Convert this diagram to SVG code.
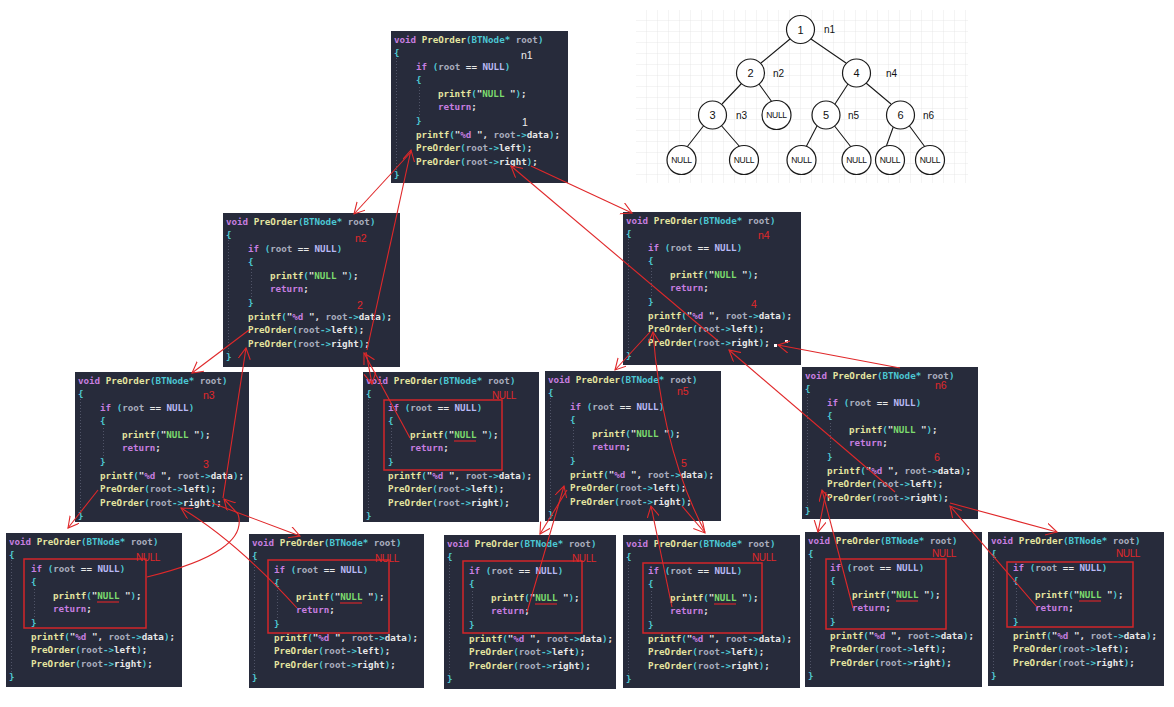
<svg xmlns="http://www.w3.org/2000/svg" width="1174" height="707" viewBox="0 0 1174 707">
<style>
.bg{fill:#272b3b}
.g{stroke:#5a6072;stroke-width:0.8;stroke-dasharray:1 2;fill:none}
.t{font-family:"DejaVu Sans Mono","Liberation Mono",monospace;font-size:9.2px;font-weight:bold;white-space:pre;fill:#e8e8e8}
.k{fill:#c77ee0}.f{fill:#e5e5a0}.p{fill:#4cc7d3}.v{fill:#a9adbd}.n{fill:#b9b9f5}.s{fill:#7ddc6e}.w{fill:#e8e8e8}
.rl{font-family:"Liberation Sans",Arial,sans-serif;font-size:10.5px;fill:#e0282a}
.wl{font-family:"Liberation Sans",Arial,sans-serif;font-size:10.5px;fill:#f0f0f0}
.nl{font-family:"Liberation Sans",Arial,sans-serif;font-size:10px;fill:#e0282a;letter-spacing:-0.4px}
.box{fill:none;stroke:#d3262a;stroke-width:1.5}
.ul{stroke:#d3262a;stroke-width:1.2}
.c{fill:none;stroke:#e0282a;stroke-width:1.1}
.tc{fill:#fff;stroke:#1a1a1a;stroke-width:1.2}
.tl{stroke:#1a1a1a;stroke-width:1.1}
.tt{font-family:"Liberation Sans",Arial,sans-serif;font-size:11px;fill:#111;text-anchor:middle}
.tn{font-family:"Liberation Sans",Arial,sans-serif;font-size:8.5px;fill:#111;text-anchor:middle;letter-spacing:-0.3px}
.ta{font-family:"Liberation Sans",Arial,sans-serif;font-size:10px;fill:#111}
</style>
<defs>
<pattern id="grid" width="11" height="11" patternUnits="userSpaceOnUse" x="636" y="10">
<path d="M11,0V11M0,11H11" stroke="#e2e2e2" stroke-width="0.8" fill="none"/>
</pattern>
<marker id="ah" markerUnits="userSpaceOnUse" markerWidth="14" markerHeight="14" refX="11" refY="6" orient="auto-start-reverse">
<path d="M0,0L11,6L0,12" fill="none" stroke="#e0282a" stroke-width="1.1"/>
</marker>
</defs>
<rect width="1174" height="707" fill="#fff"/>

<!-- tree picture -->
<g id="tree">
<rect x="636" y="10" width="332" height="173" fill="url(#grid)"/>
<path class="tl" d="M790,39L761,63M811,39L846,63M742,83L722,104M759,84L772,102M848,84L835,104M866,83L891,104M705,124L687,147M720,124L740,147M818,124L806,147M833,124L851,147M894,125L886,147M908,124L925,147"/>
<circle class="tc" cx="800.5" cy="29.5" r="14"/><text class="tt" x="800.5" y="33.5">1</text>
<circle class="tc" cx="750.5" cy="73" r="14"/><text class="tt" x="750.5" y="77">2</text>
<circle class="tc" cx="856.5" cy="73" r="14"/><text class="tt" x="856.5" y="77">4</text>
<circle class="tc" cx="712.5" cy="115" r="14"/><text class="tt" x="712.5" y="119">3</text>
<circle class="tc" cx="776.5" cy="115" r="14.5"/><text class="tn" x="776.5" y="118">NULL</text>
<circle class="tc" cx="826" cy="115" r="14"/><text class="tt" x="826" y="119">5</text>
<circle class="tc" cx="900.5" cy="115" r="14"/><text class="tt" x="900.5" y="119">6</text>
<circle class="tc" cx="681.5" cy="160" r="14.5"/><text class="tn" x="681.5" y="163">NULL</text>
<circle class="tc" cx="744" cy="160" r="14.5"/><text class="tn" x="744" y="163">NULL</text>
<circle class="tc" cx="801.5" cy="160" r="14.5"/><text class="tn" x="801.5" y="163">NULL</text>
<circle class="tc" cx="856.5" cy="160" r="14.5"/><text class="tn" x="856.5" y="163">NULL</text>
<circle class="tc" cx="890" cy="160" r="14.5"/><text class="tn" x="890" y="163">NULL</text>
<circle class="tc" cx="930" cy="160" r="14.5"/><text class="tn" x="930" y="163">NULL</text>
<text class="ta" x="824" y="33">n1</text>
<text class="ta" x="773" y="77">n2</text>
<text class="ta" x="886" y="77">n4</text>
<text class="ta" x="736" y="119">n3</text>
<text class="ta" x="848" y="119">n5</text>
<text class="ta" x="923" y="119">n6</text>
</g>

<!-- n1 -->
<g id="n1" transform="translate(391,31)">
<rect class="bg" width="177" height="152"/>
<path class="g" d="M5.5,18V146M28.5,56V84"/>
<text class="t" x="3" y="11.5"><tspan class="k">void</tspan> <tspan class="f">PreOrder</tspan><tspan class="p">(BTNode*</tspan> <tspan class="v">root</tspan><tspan class="p">)</tspan></text>
<text class="t p" x="3" y="25">{</text>
<text class="t" x="25" y="38.6"><tspan class="k">if</tspan> <tspan class="p">(</tspan><tspan class="v">root</tspan> <tspan class="w">==</tspan> <tspan class="n">NULL</tspan><tspan class="p">)</tspan></text>
<text class="t p" x="25" y="52.2">{</text>
<text class="t" x="47" y="65.8"><tspan class="f">printf</tspan><tspan class="p">(</tspan><tspan class="w">"</tspan><tspan class="s">NULL</tspan><tspan class="w"> "</tspan><tspan class="p">)</tspan><tspan class="w">;</tspan></text>
<text class="t k" x="47" y="79.4">return<tspan class="w">;</tspan></text>
<text class="t p" x="25" y="93">}</text>
<text class="t" x="25" y="106.6"><tspan class="f">printf</tspan><tspan class="p">(</tspan><tspan class="w">"</tspan><tspan class="k">%d</tspan><tspan class="w"> ", </tspan><tspan class="v">root</tspan><tspan class="p">-&gt;</tspan><tspan class="w">data</tspan><tspan class="p">)</tspan><tspan class="w">;</tspan></text>
<text class="t" x="25" y="120.2"><tspan class="f">PreOrder</tspan><tspan class="p">(</tspan><tspan class="v">root</tspan><tspan class="p">-&gt;</tspan><tspan class="w">left</tspan><tspan class="p">)</tspan><tspan class="w">;</tspan></text>
<text class="t" x="25" y="133.8"><tspan class="f">PreOrder</tspan><tspan class="p">(</tspan><tspan class="v">root</tspan><tspan class="p">-&gt;</tspan><tspan class="w">right</tspan><tspan class="p">)</tspan><tspan class="w">;</tspan></text>
<text class="t p" x="3" y="147.4">}</text>
<text class="wl" x="130" y="28">n1</text>
<text class="wl" x="131" y="95">1</text>
</g>

<!-- n2 -->
<g id="n2" transform="translate(223,213)">
<rect class="bg" width="177" height="154"/>
<path class="g" d="M5.5,18V146M28.5,56V84"/>
<text class="t" x="3" y="11.5"><tspan class="k">void</tspan> <tspan class="f">PreOrder</tspan><tspan class="p">(BTNode*</tspan> <tspan class="v">root</tspan><tspan class="p">)</tspan></text>
<text class="t p" x="3" y="25">{</text>
<text class="t" x="25" y="38.6"><tspan class="k">if</tspan> <tspan class="p">(</tspan><tspan class="v">root</tspan> <tspan class="w">==</tspan> <tspan class="n">NULL</tspan><tspan class="p">)</tspan></text>
<text class="t p" x="25" y="52.2">{</text>
<text class="t" x="47" y="65.8"><tspan class="f">printf</tspan><tspan class="p">(</tspan><tspan class="w">"</tspan><tspan class="s">NULL</tspan><tspan class="w"> "</tspan><tspan class="p">)</tspan><tspan class="w">;</tspan></text>
<text class="t k" x="47" y="79.4">return<tspan class="w">;</tspan></text>
<text class="t p" x="25" y="93">}</text>
<text class="t" x="25" y="106.6"><tspan class="f">printf</tspan><tspan class="p">(</tspan><tspan class="w">"</tspan><tspan class="k">%d</tspan><tspan class="w"> ", </tspan><tspan class="v">root</tspan><tspan class="p">-&gt;</tspan><tspan class="w">data</tspan><tspan class="p">)</tspan><tspan class="w">;</tspan></text>
<text class="t" x="25" y="120.2"><tspan class="f">PreOrder</tspan><tspan class="p">(</tspan><tspan class="v">root</tspan><tspan class="p">-&gt;</tspan><tspan class="w">left</tspan><tspan class="p">)</tspan><tspan class="w">;</tspan></text>
<text class="t" x="25" y="133.8"><tspan class="f">PreOrder</tspan><tspan class="p">(</tspan><tspan class="v">root</tspan><tspan class="p">-&gt;</tspan><tspan class="w">right</tspan><tspan class="p">)</tspan><tspan class="w">;</tspan></text>
<text class="t p" x="3" y="147.4">}</text>
<text class="rl" x="132" y="29">n2</text>
<text class="rl" x="134" y="95.5">2</text>
</g>

<!-- n4 -->
<g id="n4" transform="translate(623,212)">
<rect class="bg" width="178" height="153"/>
<path class="g" d="M5.5,18V146M28.5,56V84"/>
<text class="t" x="3" y="11.5"><tspan class="k">void</tspan> <tspan class="f">PreOrder</tspan><tspan class="p">(BTNode*</tspan> <tspan class="v">root</tspan><tspan class="p">)</tspan></text>
<text class="t p" x="3" y="25">{</text>
<text class="t" x="25" y="38.6"><tspan class="k">if</tspan> <tspan class="p">(</tspan><tspan class="v">root</tspan> <tspan class="w">==</tspan> <tspan class="n">NULL</tspan><tspan class="p">)</tspan></text>
<text class="t p" x="25" y="52.2">{</text>
<text class="t" x="47" y="65.8"><tspan class="f">printf</tspan><tspan class="p">(</tspan><tspan class="w">"</tspan><tspan class="s">NULL</tspan><tspan class="w"> "</tspan><tspan class="p">)</tspan><tspan class="w">;</tspan></text>
<text class="t k" x="47" y="79.4">return<tspan class="w">;</tspan></text>
<text class="t p" x="25" y="93">}</text>
<text class="t" x="25" y="106.6"><tspan class="f">printf</tspan><tspan class="p">(</tspan><tspan class="w">"</tspan><tspan class="k">%d</tspan><tspan class="w"> ", </tspan><tspan class="v">root</tspan><tspan class="p">-&gt;</tspan><tspan class="w">data</tspan><tspan class="p">)</tspan><tspan class="w">;</tspan></text>
<text class="t" x="25" y="120.2"><tspan class="f">PreOrder</tspan><tspan class="p">(</tspan><tspan class="v">root</tspan><tspan class="p">-&gt;</tspan><tspan class="w">left</tspan><tspan class="p">)</tspan><tspan class="w">;</tspan></text>
<text class="t" x="25" y="133.8"><tspan class="f">PreOrder</tspan><tspan class="p">(</tspan><tspan class="v">root</tspan><tspan class="p">-&gt;</tspan><tspan class="w">right</tspan><tspan class="p">)</tspan><tspan class="w">;</tspan></text>
<text class="t p" x="3" y="147.4">}</text>
<text class="rl" x="135" y="27">n4</text>
<text class="rl" x="128" y="95.5">4</text>
<rect x="151" y="132" width="3" height="3" fill="#fff"/>
<rect x="162" y="128" width="3" height="3" fill="#fff"/>
</g>

<!-- n3 -->
<g id="n3" transform="translate(75,372)">
<rect class="bg" width="174" height="150"/>
<path class="g" d="M5.5,18V146M28.5,56V84"/>
<text class="t" x="3" y="11.5"><tspan class="k">void</tspan> <tspan class="f">PreOrder</tspan><tspan class="p">(BTNode*</tspan> <tspan class="v">root</tspan><tspan class="p">)</tspan></text>
<text class="t p" x="3" y="25">{</text>
<text class="t" x="25" y="38.6"><tspan class="k">if</tspan> <tspan class="p">(</tspan><tspan class="v">root</tspan> <tspan class="w">==</tspan> <tspan class="n">NULL</tspan><tspan class="p">)</tspan></text>
<text class="t p" x="25" y="52.2">{</text>
<text class="t" x="47" y="65.8"><tspan class="f">printf</tspan><tspan class="p">(</tspan><tspan class="w">"</tspan><tspan class="s">NULL</tspan><tspan class="w"> "</tspan><tspan class="p">)</tspan><tspan class="w">;</tspan></text>
<text class="t k" x="47" y="79.4">return<tspan class="w">;</tspan></text>
<text class="t p" x="25" y="93">}</text>
<text class="t" x="25" y="106.6"><tspan class="f">printf</tspan><tspan class="p">(</tspan><tspan class="w">"</tspan><tspan class="k">%d</tspan><tspan class="w"> ", </tspan><tspan class="v">root</tspan><tspan class="p">-&gt;</tspan><tspan class="w">data</tspan><tspan class="p">)</tspan><tspan class="w">;</tspan></text>
<text class="t" x="25" y="120.2"><tspan class="f">PreOrder</tspan><tspan class="p">(</tspan><tspan class="v">root</tspan><tspan class="p">-&gt;</tspan><tspan class="w">left</tspan><tspan class="p">)</tspan><tspan class="w">;</tspan></text>
<text class="t" x="25" y="133.8"><tspan class="f">PreOrder</tspan><tspan class="p">(</tspan><tspan class="v">root</tspan><tspan class="p">-&gt;</tspan><tspan class="w">right</tspan><tspan class="p">)</tspan><tspan class="w">;</tspan></text>
<text class="t p" x="3" y="147.4">}</text>
<text class="rl" x="128" y="27">n3</text>
<text class="rl" x="128" y="96">3</text>
</g>

<!-- middle NULL (n2 right) -->
<g id="null_n2r" transform="translate(363,372)">
<rect class="bg" width="176" height="150"/>
<path class="g" d="M5.5,18V146M28.5,56V84"/>
<text class="t" x="3" y="11.5"><tspan class="k">void</tspan> <tspan class="f">PreOrder</tspan><tspan class="p">(BTNode*</tspan> <tspan class="v">root</tspan><tspan class="p">)</tspan></text>
<text class="t p" x="3" y="25">{</text>
<text class="t" x="25" y="38.6"><tspan class="k">if</tspan> <tspan class="p">(</tspan><tspan class="v">root</tspan> <tspan class="w">==</tspan> <tspan class="n">NULL</tspan><tspan class="p">)</tspan></text>
<text class="t p" x="25" y="52.2">{</text>
<text class="t" x="47" y="65.8"><tspan class="f">printf</tspan><tspan class="p">(</tspan><tspan class="w">"</tspan><tspan class="s">NULL</tspan><tspan class="w"> "</tspan><tspan class="p">)</tspan><tspan class="w">;</tspan></text>
<text class="t k" x="47" y="79.4">return<tspan class="w">;</tspan></text>
<text class="t p" x="25" y="93">}</text>
<text class="t" x="25" y="106.6"><tspan class="f">printf</tspan><tspan class="p">(</tspan><tspan class="w">"</tspan><tspan class="k">%d</tspan><tspan class="w"> ", </tspan><tspan class="v">root</tspan><tspan class="p">-&gt;</tspan><tspan class="w">data</tspan><tspan class="p">)</tspan><tspan class="w">;</tspan></text>
<text class="t" x="25" y="120.2"><tspan class="f">PreOrder</tspan><tspan class="p">(</tspan><tspan class="v">root</tspan><tspan class="p">-&gt;</tspan><tspan class="w">left</tspan><tspan class="p">)</tspan><tspan class="w">;</tspan></text>
<text class="t" x="25" y="133.8"><tspan class="f">PreOrder</tspan><tspan class="p">(</tspan><tspan class="v">root</tspan><tspan class="p">-&gt;</tspan><tspan class="w">right</tspan><tspan class="p">)</tspan><tspan class="w">;</tspan></text>
<text class="t p" x="3" y="147.4">}</text>
<rect class="box" x="21" y="28" width="118" height="70"/>
<path class="ul" d="M91,69H113"/>
<text class="nl" x="129" y="27">NULL</text>
</g>

<!-- n5 -->
<g id="n5" transform="translate(545,371)">
<rect class="bg" width="176" height="150"/>
<path class="g" d="M5.5,18V146M28.5,56V84"/>
<text class="t" x="3" y="11.5"><tspan class="k">void</tspan> <tspan class="f">PreOrder</tspan><tspan class="p">(BTNode*</tspan> <tspan class="v">root</tspan><tspan class="p">)</tspan></text>
<text class="t p" x="3" y="25">{</text>
<text class="t" x="25" y="38.6"><tspan class="k">if</tspan> <tspan class="p">(</tspan><tspan class="v">root</tspan> <tspan class="w">==</tspan> <tspan class="n">NULL</tspan><tspan class="p">)</tspan></text>
<text class="t p" x="25" y="52.2">{</text>
<text class="t" x="47" y="65.8"><tspan class="f">printf</tspan><tspan class="p">(</tspan><tspan class="w">"</tspan><tspan class="s">NULL</tspan><tspan class="w"> "</tspan><tspan class="p">)</tspan><tspan class="w">;</tspan></text>
<text class="t k" x="47" y="79.4">return<tspan class="w">;</tspan></text>
<text class="t p" x="25" y="93">}</text>
<text class="t" x="25" y="106.6"><tspan class="f">printf</tspan><tspan class="p">(</tspan><tspan class="w">"</tspan><tspan class="k">%d</tspan><tspan class="w"> ", </tspan><tspan class="v">root</tspan><tspan class="p">-&gt;</tspan><tspan class="w">data</tspan><tspan class="p">)</tspan><tspan class="w">;</tspan></text>
<text class="t" x="25" y="120.2"><tspan class="f">PreOrder</tspan><tspan class="p">(</tspan><tspan class="v">root</tspan><tspan class="p">-&gt;</tspan><tspan class="w">left</tspan><tspan class="p">)</tspan><tspan class="w">;</tspan></text>
<text class="t" x="25" y="133.8"><tspan class="f">PreOrder</tspan><tspan class="p">(</tspan><tspan class="v">root</tspan><tspan class="p">-&gt;</tspan><tspan class="w">right</tspan><tspan class="p">)</tspan><tspan class="w">;</tspan></text>
<text class="t p" x="3" y="147.4">}</text>
<text class="rl" x="132" y="24">n5</text>
<text class="rl" x="136" y="96">5</text>
</g>

<!-- n6 -->
<g id="n6" transform="translate(802,367)">
<rect class="bg" width="176" height="152"/>
<path class="g" d="M5.5,18V146M28.5,56V84"/>
<text class="t" x="3" y="11.5"><tspan class="k">void</tspan> <tspan class="f">PreOrder</tspan><tspan class="p">(BTNode*</tspan> <tspan class="v">root</tspan><tspan class="p">)</tspan></text>
<text class="t p" x="3" y="25">{</text>
<text class="t" x="25" y="38.6"><tspan class="k">if</tspan> <tspan class="p">(</tspan><tspan class="v">root</tspan> <tspan class="w">==</tspan> <tspan class="n">NULL</tspan><tspan class="p">)</tspan></text>
<text class="t p" x="25" y="52.2">{</text>
<text class="t" x="47" y="65.8"><tspan class="f">printf</tspan><tspan class="p">(</tspan><tspan class="w">"</tspan><tspan class="s">NULL</tspan><tspan class="w"> "</tspan><tspan class="p">)</tspan><tspan class="w">;</tspan></text>
<text class="t k" x="47" y="79.4">return<tspan class="w">;</tspan></text>
<text class="t p" x="25" y="93">}</text>
<text class="t" x="25" y="106.6"><tspan class="f">printf</tspan><tspan class="p">(</tspan><tspan class="w">"</tspan><tspan class="k">%d</tspan><tspan class="w"> ", </tspan><tspan class="v">root</tspan><tspan class="p">-&gt;</tspan><tspan class="w">data</tspan><tspan class="p">)</tspan><tspan class="w">;</tspan></text>
<text class="t" x="25" y="120.2"><tspan class="f">PreOrder</tspan><tspan class="p">(</tspan><tspan class="v">root</tspan><tspan class="p">-&gt;</tspan><tspan class="w">left</tspan><tspan class="p">)</tspan><tspan class="w">;</tspan></text>
<text class="t" x="25" y="133.8"><tspan class="f">PreOrder</tspan><tspan class="p">(</tspan><tspan class="v">root</tspan><tspan class="p">-&gt;</tspan><tspan class="w">right</tspan><tspan class="p">)</tspan><tspan class="w">;</tspan></text>
<text class="t p" x="3" y="147.4">}</text>
<text class="rl" x="133" y="22">n6</text>
<text class="rl" x="132" y="94">6</text>
</g>

<!-- bottom NULL blocks -->
<g id="null_n3l" transform="translate(6,533)">
<rect class="bg" width="176" height="154"/>
<path class="g" d="M5.5,18V146M28.5,56V84"/>
<text class="t" x="3" y="11.5"><tspan class="k">void</tspan> <tspan class="f">PreOrder</tspan><tspan class="p">(BTNode*</tspan> <tspan class="v">root</tspan><tspan class="p">)</tspan></text>
<text class="t p" x="3" y="25">{</text>
<text class="t" x="25" y="38.6"><tspan class="k">if</tspan> <tspan class="p">(</tspan><tspan class="v">root</tspan> <tspan class="w">==</tspan> <tspan class="n">NULL</tspan><tspan class="p">)</tspan></text>
<text class="t p" x="25" y="52.2">{</text>
<text class="t" x="47" y="65.8"><tspan class="f">printf</tspan><tspan class="p">(</tspan><tspan class="w">"</tspan><tspan class="s">NULL</tspan><tspan class="w"> "</tspan><tspan class="p">)</tspan><tspan class="w">;</tspan></text>
<text class="t k" x="47" y="79.4">return<tspan class="w">;</tspan></text>
<text class="t p" x="25" y="93">}</text>
<text class="t" x="25" y="106.6"><tspan class="f">printf</tspan><tspan class="p">(</tspan><tspan class="w">"</tspan><tspan class="k">%d</tspan><tspan class="w"> ", </tspan><tspan class="v">root</tspan><tspan class="p">-&gt;</tspan><tspan class="w">data</tspan><tspan class="p">)</tspan><tspan class="w">;</tspan></text>
<text class="t" x="25" y="120.2"><tspan class="f">PreOrder</tspan><tspan class="p">(</tspan><tspan class="v">root</tspan><tspan class="p">-&gt;</tspan><tspan class="w">left</tspan><tspan class="p">)</tspan><tspan class="w">;</tspan></text>
<text class="t" x="25" y="133.8"><tspan class="f">PreOrder</tspan><tspan class="p">(</tspan><tspan class="v">root</tspan><tspan class="p">-&gt;</tspan><tspan class="w">right</tspan><tspan class="p">)</tspan><tspan class="w">;</tspan></text>
<text class="t p" x="3" y="147.4">}</text>
<rect class="box" x="18" y="26" width="122" height="69"/>
<path class="ul" d="M91,69H113"/>
<text class="nl" x="130" y="28">NULL</text>
</g>

<g id="null_n3r" transform="translate(249,534)">
<rect class="bg" width="175" height="154"/>
<path class="g" d="M5.5,18V146M28.5,56V84"/>
<text class="t" x="3" y="11.5"><tspan class="k">void</tspan> <tspan class="f">PreOrder</tspan><tspan class="p">(BTNode*</tspan> <tspan class="v">root</tspan><tspan class="p">)</tspan></text>
<text class="t p" x="3" y="25">{</text>
<text class="t" x="25" y="38.6"><tspan class="k">if</tspan> <tspan class="p">(</tspan><tspan class="v">root</tspan> <tspan class="w">==</tspan> <tspan class="n">NULL</tspan><tspan class="p">)</tspan></text>
<text class="t p" x="25" y="52.2">{</text>
<text class="t" x="47" y="65.8"><tspan class="f">printf</tspan><tspan class="p">(</tspan><tspan class="w">"</tspan><tspan class="s">NULL</tspan><tspan class="w"> "</tspan><tspan class="p">)</tspan><tspan class="w">;</tspan></text>
<text class="t k" x="47" y="79.4">return<tspan class="w">;</tspan></text>
<text class="t p" x="25" y="93">}</text>
<text class="t" x="25" y="106.6"><tspan class="f">printf</tspan><tspan class="p">(</tspan><tspan class="w">"</tspan><tspan class="k">%d</tspan><tspan class="w"> ", </tspan><tspan class="v">root</tspan><tspan class="p">-&gt;</tspan><tspan class="w">data</tspan><tspan class="p">)</tspan><tspan class="w">;</tspan></text>
<text class="t" x="25" y="120.2"><tspan class="f">PreOrder</tspan><tspan class="p">(</tspan><tspan class="v">root</tspan><tspan class="p">-&gt;</tspan><tspan class="w">left</tspan><tspan class="p">)</tspan><tspan class="w">;</tspan></text>
<text class="t" x="25" y="133.8"><tspan class="f">PreOrder</tspan><tspan class="p">(</tspan><tspan class="v">root</tspan><tspan class="p">-&gt;</tspan><tspan class="w">right</tspan><tspan class="p">)</tspan><tspan class="w">;</tspan></text>
<text class="t p" x="3" y="147.4">}</text>
<rect class="box" x="19" y="26" width="121" height="73"/>
<path class="ul" d="M91,69H113"/>
<text class="nl" x="126" y="28">NULL</text>
</g>

<g id="null_n5l" transform="translate(444,535)">
<rect class="bg" width="172" height="154"/>
<path class="g" d="M5.5,18V146M28.5,56V84"/>
<text class="t" x="3" y="11.5"><tspan class="k">void</tspan> <tspan class="f">PreOrder</tspan><tspan class="p">(BTNode*</tspan> <tspan class="v">root</tspan><tspan class="p">)</tspan></text>
<text class="t p" x="3" y="25">{</text>
<text class="t" x="25" y="38.6"><tspan class="k">if</tspan> <tspan class="p">(</tspan><tspan class="v">root</tspan> <tspan class="w">==</tspan> <tspan class="n">NULL</tspan><tspan class="p">)</tspan></text>
<text class="t p" x="25" y="52.2">{</text>
<text class="t" x="47" y="65.8"><tspan class="f">printf</tspan><tspan class="p">(</tspan><tspan class="w">"</tspan><tspan class="s">NULL</tspan><tspan class="w"> "</tspan><tspan class="p">)</tspan><tspan class="w">;</tspan></text>
<text class="t k" x="47" y="79.4">return<tspan class="w">;</tspan></text>
<text class="t p" x="25" y="93">}</text>
<text class="t" x="25" y="106.6"><tspan class="f">printf</tspan><tspan class="p">(</tspan><tspan class="w">"</tspan><tspan class="k">%d</tspan><tspan class="w"> ", </tspan><tspan class="v">root</tspan><tspan class="p">-&gt;</tspan><tspan class="w">data</tspan><tspan class="p">)</tspan><tspan class="w">;</tspan></text>
<text class="t" x="25" y="120.2"><tspan class="f">PreOrder</tspan><tspan class="p">(</tspan><tspan class="v">root</tspan><tspan class="p">-&gt;</tspan><tspan class="w">left</tspan><tspan class="p">)</tspan><tspan class="w">;</tspan></text>
<text class="t" x="25" y="133.8"><tspan class="f">PreOrder</tspan><tspan class="p">(</tspan><tspan class="v">root</tspan><tspan class="p">-&gt;</tspan><tspan class="w">right</tspan><tspan class="p">)</tspan><tspan class="w">;</tspan></text>
<text class="t p" x="3" y="147.4">}</text>
<rect class="box" x="19" y="26" width="119" height="72"/>
<path class="ul" d="M91,69H113"/>
<text class="nl" x="128" y="27">NULL</text>
</g>

<g id="null_n5r" transform="translate(623,535)">
<rect class="bg" width="177" height="153"/>
<path class="g" d="M5.5,18V146M28.5,56V84"/>
<text class="t" x="3" y="11.5"><tspan class="k">void</tspan> <tspan class="f">PreOrder</tspan><tspan class="p">(BTNode*</tspan> <tspan class="v">root</tspan><tspan class="p">)</tspan></text>
<text class="t p" x="3" y="25">{</text>
<text class="t" x="25" y="38.6"><tspan class="k">if</tspan> <tspan class="p">(</tspan><tspan class="v">root</tspan> <tspan class="w">==</tspan> <tspan class="n">NULL</tspan><tspan class="p">)</tspan></text>
<text class="t p" x="25" y="52.2">{</text>
<text class="t" x="47" y="65.8"><tspan class="f">printf</tspan><tspan class="p">(</tspan><tspan class="w">"</tspan><tspan class="s">NULL</tspan><tspan class="w"> "</tspan><tspan class="p">)</tspan><tspan class="w">;</tspan></text>
<text class="t k" x="47" y="79.4">return<tspan class="w">;</tspan></text>
<text class="t p" x="25" y="93">}</text>
<text class="t" x="25" y="106.6"><tspan class="f">printf</tspan><tspan class="p">(</tspan><tspan class="w">"</tspan><tspan class="k">%d</tspan><tspan class="w"> ", </tspan><tspan class="v">root</tspan><tspan class="p">-&gt;</tspan><tspan class="w">data</tspan><tspan class="p">)</tspan><tspan class="w">;</tspan></text>
<text class="t" x="25" y="120.2"><tspan class="f">PreOrder</tspan><tspan class="p">(</tspan><tspan class="v">root</tspan><tspan class="p">-&gt;</tspan><tspan class="w">left</tspan><tspan class="p">)</tspan><tspan class="w">;</tspan></text>
<text class="t" x="25" y="133.8"><tspan class="f">PreOrder</tspan><tspan class="p">(</tspan><tspan class="v">root</tspan><tspan class="p">-&gt;</tspan><tspan class="w">right</tspan><tspan class="p">)</tspan><tspan class="w">;</tspan></text>
<text class="t p" x="3" y="147.4">}</text>
<rect class="box" x="20" y="28" width="119" height="70"/>
<path class="ul" d="M91,69H113"/>
<text class="nl" x="129" y="26">NULL</text>
</g>

<g id="null_n6l" transform="translate(805,532)">
<rect class="bg" width="177" height="155"/>
<path class="g" d="M5.5,18V146M28.5,56V84"/>
<text class="t" x="3" y="11.5"><tspan class="k">void</tspan> <tspan class="f">PreOrder</tspan><tspan class="p">(BTNode*</tspan> <tspan class="v">root</tspan><tspan class="p">)</tspan></text>
<text class="t p" x="3" y="25">{</text>
<text class="t" x="25" y="38.6"><tspan class="k">if</tspan> <tspan class="p">(</tspan><tspan class="v">root</tspan> <tspan class="w">==</tspan> <tspan class="n">NULL</tspan><tspan class="p">)</tspan></text>
<text class="t p" x="25" y="52.2">{</text>
<text class="t" x="47" y="65.8"><tspan class="f">printf</tspan><tspan class="p">(</tspan><tspan class="w">"</tspan><tspan class="s">NULL</tspan><tspan class="w"> "</tspan><tspan class="p">)</tspan><tspan class="w">;</tspan></text>
<text class="t k" x="47" y="79.4">return<tspan class="w">;</tspan></text>
<text class="t p" x="25" y="93">}</text>
<text class="t" x="25" y="106.6"><tspan class="f">printf</tspan><tspan class="p">(</tspan><tspan class="w">"</tspan><tspan class="k">%d</tspan><tspan class="w"> ", </tspan><tspan class="v">root</tspan><tspan class="p">-&gt;</tspan><tspan class="w">data</tspan><tspan class="p">)</tspan><tspan class="w">;</tspan></text>
<text class="t" x="25" y="120.2"><tspan class="f">PreOrder</tspan><tspan class="p">(</tspan><tspan class="v">root</tspan><tspan class="p">-&gt;</tspan><tspan class="w">left</tspan><tspan class="p">)</tspan><tspan class="w">;</tspan></text>
<text class="t" x="25" y="133.8"><tspan class="f">PreOrder</tspan><tspan class="p">(</tspan><tspan class="v">root</tspan><tspan class="p">-&gt;</tspan><tspan class="w">right</tspan><tspan class="p">)</tspan><tspan class="w">;</tspan></text>
<text class="t p" x="3" y="147.4">}</text>
<rect class="box" x="21" y="27" width="120" height="70"/>
<path class="ul" d="M91,69H113"/>
<text class="nl" x="127" y="25">NULL</text>
</g>

<g id="null_n6r" transform="translate(988,532)">
<rect class="bg" width="176" height="154"/>
<path class="g" d="M5.5,18V146M28.5,56V84"/>
<text class="t" x="3" y="11.5"><tspan class="k">void</tspan> <tspan class="f">PreOrder</tspan><tspan class="p">(BTNode*</tspan> <tspan class="v">root</tspan><tspan class="p">)</tspan></text>
<text class="t p" x="3" y="25">{</text>
<text class="t" x="25" y="38.6"><tspan class="k">if</tspan> <tspan class="p">(</tspan><tspan class="v">root</tspan> <tspan class="w">==</tspan> <tspan class="n">NULL</tspan><tspan class="p">)</tspan></text>
<text class="t p" x="25" y="52.2">{</text>
<text class="t" x="47" y="65.8"><tspan class="f">printf</tspan><tspan class="p">(</tspan><tspan class="w">"</tspan><tspan class="s">NULL</tspan><tspan class="w"> "</tspan><tspan class="p">)</tspan><tspan class="w">;</tspan></text>
<text class="t k" x="47" y="79.4">return<tspan class="w">;</tspan></text>
<text class="t p" x="25" y="93">}</text>
<text class="t" x="25" y="106.6"><tspan class="f">printf</tspan><tspan class="p">(</tspan><tspan class="w">"</tspan><tspan class="k">%d</tspan><tspan class="w"> ", </tspan><tspan class="v">root</tspan><tspan class="p">-&gt;</tspan><tspan class="w">data</tspan><tspan class="p">)</tspan><tspan class="w">;</tspan></text>
<text class="t" x="25" y="120.2"><tspan class="f">PreOrder</tspan><tspan class="p">(</tspan><tspan class="v">root</tspan><tspan class="p">-&gt;</tspan><tspan class="w">left</tspan><tspan class="p">)</tspan><tspan class="w">;</tspan></text>
<text class="t" x="25" y="133.8"><tspan class="f">PreOrder</tspan><tspan class="p">(</tspan><tspan class="v">root</tspan><tspan class="p">-&gt;</tspan><tspan class="w">right</tspan><tspan class="p">)</tspan><tspan class="w">;</tspan></text>
<text class="t p" x="3" y="147.4">}</text>
<rect class="box" x="19" y="30" width="126" height="65"/>
<path class="ul" d="M91,69H113"/>
<text class="nl" x="128" y="25">NULL</text>
</g>

<!-- connectors -->
<g id="connectors" class="c" marker-end="url(#ah)">
<path d="M411,152L354,214"/>
<path d="M367,350L411,150"/>
<path d="M531,166L632,213"/>
<path d="M717,340L511,166"/>
<path d="M249,330L192,373"/>
<path d="M223,498L246,348"/>
<path d="M366,352L372,384"/>
<path d="M410,438L364,353"/>
<path d="M98,490L68,528"/>
<path d="M147,577Q250,552 238,514L224,499"/>
<path d="M212,503L300,536"/>
<path d="M297,608Q235,540 181,508"/>
<path d="M650,332L615,370"/>
<path d="M705,532Q662,450 653,332"/>
<path d="M900,368L778,345"/>
<path d="M895,492L729,350"/>
<path d="M567,490L540,534"/>
<path d="M527,612L564,486"/>
<path d="M682,506L705,533"/>
<path d="M672,607L651,506"/>
<path d="M826,492L818,532"/>
<path d="M853,608L822,490"/>
<path d="M950,503L1057,532"/>
<path d="M1037,607L950,506"/>
</g>
</svg>
